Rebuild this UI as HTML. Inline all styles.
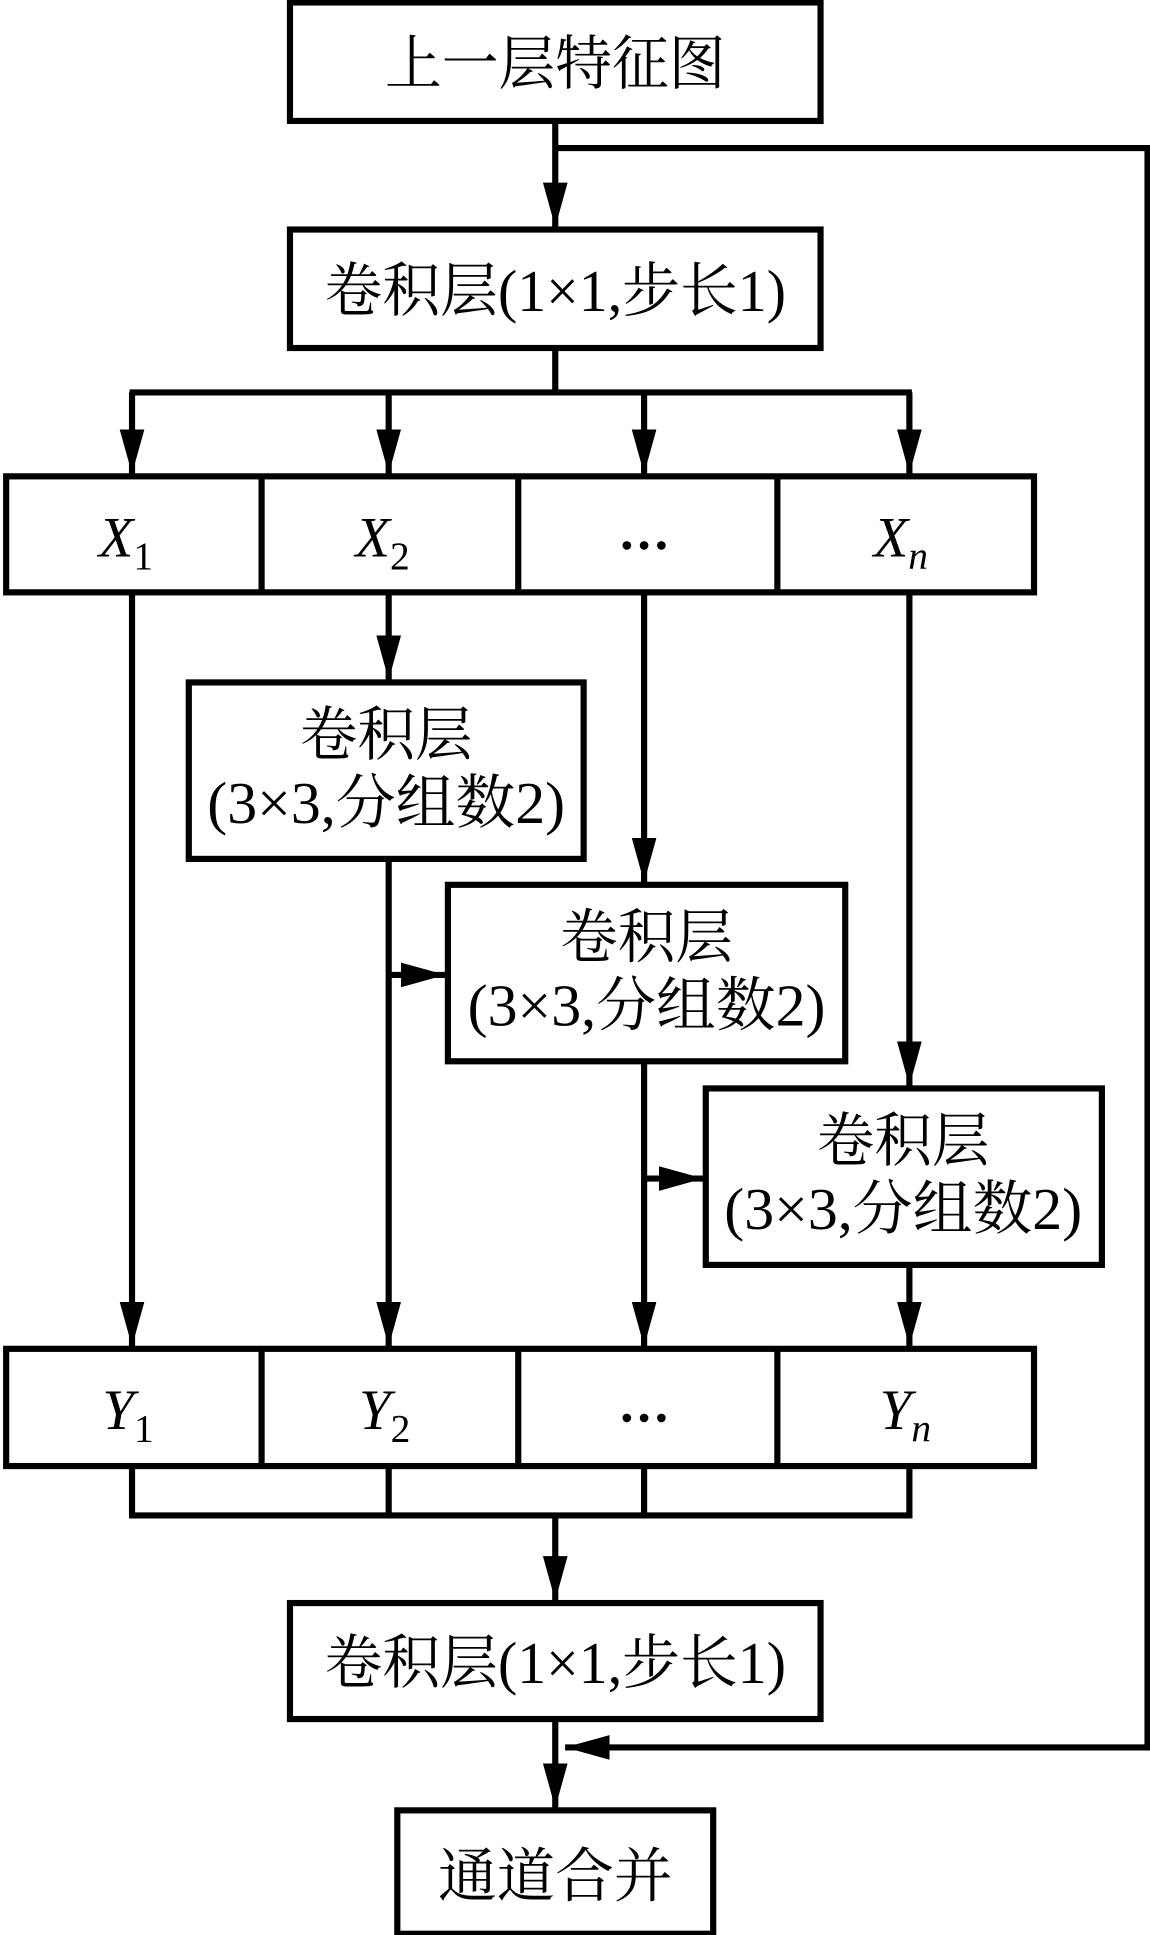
<!DOCTYPE html>
<html><head><meta charset="utf-8"><style>html,body{margin:0;padding:0;background:#fff}svg{display:block}</style></head>
<body>
<svg width="1150" height="1935" viewBox="0 0 932 1568" preserveAspectRatio="none" xmlns="http://www.w3.org/2000/svg">
<defs>
<marker id="a" markerUnits="userSpaceOnUse" markerWidth="40" markerHeight="22" refX="36" refY="10" orient="auto"><path d="M0,0 L36,10 L0,20 Z" fill="#000"/></marker>
</defs>
<g fill="none" stroke="#000" stroke-width="5">
<rect x="235" y="2" width="430" height="96"/>
<rect x="235" y="186" width="430" height="96"/>
<rect x="5" y="386" width="833" height="94"/>
<line x1="212" y1="386" x2="212" y2="480"/><line x1="420" y1="386" x2="420" y2="480"/><line x1="630" y1="386" x2="630" y2="480"/>
<rect x="153" y="553" width="320" height="143"/>
<rect x="363" y="717" width="322" height="143"/>
<rect x="572" y="882" width="321" height="143"/>
<rect x="5" y="1093" width="833" height="95"/>
<line x1="212" y1="1093" x2="212" y2="1188"/><line x1="420" y1="1093" x2="420" y2="1188"/><line x1="630" y1="1093" x2="630" y2="1188"/>
<rect x="235" y="1299" width="430" height="94"/>
<rect x="322" y="1467" width="256" height="100"/>
<line x1="450" y1="98" x2="450" y2="184" marker-end="url(#a)"/>
<polyline points="450,120 930,120 930,1416 458,1416" marker-end="url(#a)"/>
<line x1="450" y1="282" x2="450" y2="318"/>
<line x1="105" y1="318" x2="739" y2="318"/>
<line x1="107" y1="318" x2="107" y2="384" marker-end="url(#a)"/>
<line x1="315" y1="318" x2="315" y2="384" marker-end="url(#a)"/>
<line x1="522" y1="318" x2="522" y2="384" marker-end="url(#a)"/>
<line x1="737" y1="318" x2="737" y2="384" marker-end="url(#a)"/>
<line x1="107" y1="480" x2="107" y2="1091" marker-end="url(#a)"/>
<line x1="315" y1="480" x2="315" y2="551" marker-end="url(#a)"/>
<line x1="315" y1="696" x2="315" y2="1091" marker-end="url(#a)"/>
<line x1="315" y1="790" x2="361" y2="790" marker-end="url(#a)"/>
<line x1="522" y1="480" x2="522" y2="715" marker-end="url(#a)"/>
<line x1="522" y1="860" x2="522" y2="1091" marker-end="url(#a)"/>
<line x1="522" y1="955" x2="570" y2="955" marker-end="url(#a)"/>
<line x1="737" y1="480" x2="737" y2="880" marker-end="url(#a)"/>
<line x1="737" y1="1025" x2="737" y2="1091" marker-end="url(#a)"/>
<polyline points="107,1188 107,1228 737,1228 737,1188"/>
<line x1="315" y1="1188" x2="315" y2="1228"/><line x1="522" y1="1188" x2="522" y2="1228"/>
<line x1="450" y1="1228" x2="450" y2="1297" marker-end="url(#a)"/>
<line x1="450" y1="1393" x2="450" y2="1465" marker-end="url(#a)"/>
</g>
<g font-family="'Liberation Serif','Noto Serif CJK SC',serif" font-size="48" fill="#000" text-anchor="middle">
<text x="450" y="68" textLength="276" lengthAdjust="spacingAndGlyphs">上一层特征图</text>
<text x="450" y="252" textLength="374" lengthAdjust="spacingAndGlyphs">卷积层(1×1,步长1)</text>
<text x="450" y="1364" textLength="374" lengthAdjust="spacingAndGlyphs">卷积层(1×1,步长1)</text>
<text x="450" y="1537" textLength="190" lengthAdjust="spacingAndGlyphs">通道合并</text>
<text x="313" y="612" textLength="140" lengthAdjust="spacingAndGlyphs">卷积层</text><text x="313" y="667" textLength="290" lengthAdjust="spacingAndGlyphs">(3×3,分组数2)</text>
<text x="524" y="776" textLength="140" lengthAdjust="spacingAndGlyphs">卷积层</text><text x="524" y="831" textLength="290" lengthAdjust="spacingAndGlyphs">(3×3,分组数2)</text>
<text x="732" y="941" textLength="140" lengthAdjust="spacingAndGlyphs">卷积层</text><text x="732" y="996" textLength="290" lengthAdjust="spacingAndGlyphs">(3×3,分组数2)</text>
</g>
<g fill="#000">
<circle cx="508" cy="442" r="3.5"/><circle cx="522" cy="442" r="3.5"/><circle cx="536" cy="442" r="3.5"/>
<circle cx="508" cy="1149" r="3.5"/><circle cx="522" cy="1149" r="3.5"/><circle cx="536" cy="1149" r="3.5"/>
</g>
<g font-family="'Liberation Serif',serif" font-size="46" fill="#000">
<text x="80" y="451"><tspan font-style="italic">X</tspan><tspan font-size="32" dy="10">1</tspan></text>
<text x="288" y="451"><tspan font-style="italic">X</tspan><tspan font-size="32" dy="10">2</tspan></text>
<text x="708" y="451"><tspan font-style="italic">X</tspan><tspan font-size="32" dy="10" font-style="italic">n</tspan></text>
<text x="83" y="1158"><tspan font-style="italic">Y</tspan><tspan font-size="32" dy="10">1</tspan></text>
<text x="291" y="1158"><tspan font-style="italic">Y</tspan><tspan font-size="32" dy="10">2</tspan></text>
<text x="713" y="1158"><tspan font-style="italic">Y</tspan><tspan font-size="32" dy="10" font-style="italic">n</tspan></text>
</g>
</svg>
</body></html>
